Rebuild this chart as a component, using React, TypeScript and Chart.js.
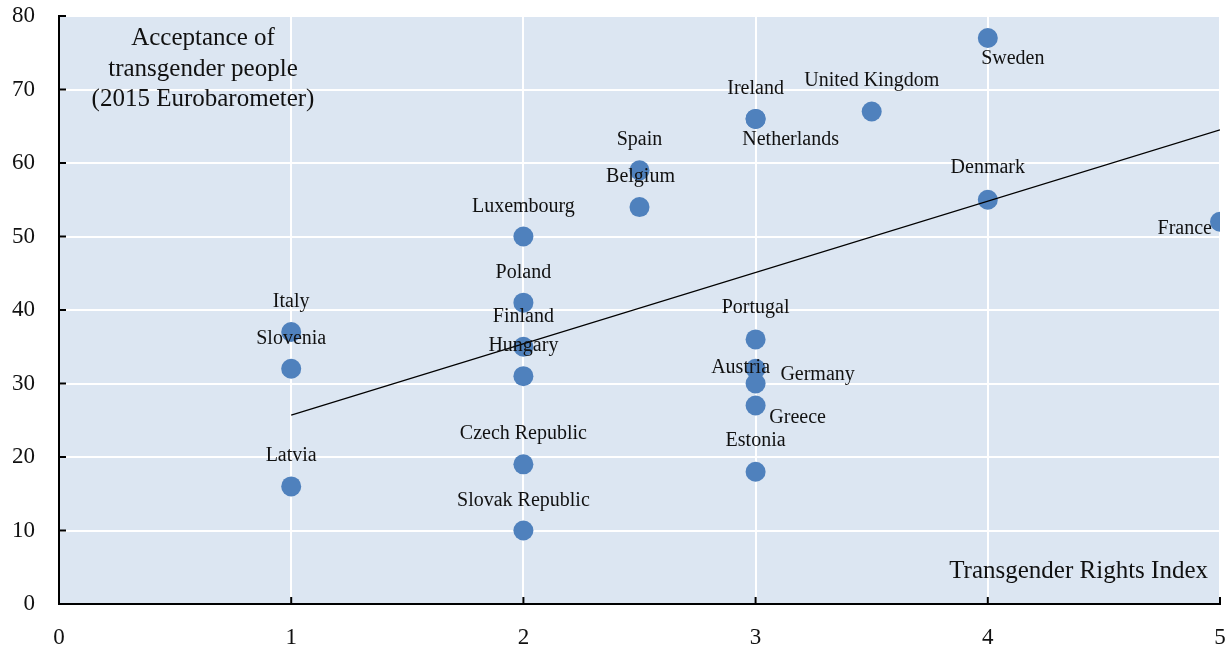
import React, { useEffect, useRef } from "react";
import { Chart, registerables } from "chart.js";

Chart.register(...registerables);

// ---- Data ----
const countries = [
  "Italy", "Slovenia", "Latvia",
  "Luxembourg", "Poland", "Finland", "Hungary", "Czech Republic", "Slovak Republic",
  "Spain", "Belgium",
  "Ireland", "Netherlands", "Portugal", "Austria", "Germany", "Greece", "Estonia",
  "United Kingdom", "Sweden", "Denmark", "France",
];
const rightsIndex = [
  1, 1, 1,
  2, 2, 2, 2, 2, 2,
  2.5, 2.5,
  3, 3, 3, 3, 3, 3, 3,
  3.5, 4, 4, 5,
];
const acceptance = [
  37, 32, 16,
  50, 41, 35, 31, 19, 10,
  59, 54,
  66, 66, 36, 32, 30, 27, 18,
  67, 77, 55, 52,
];
const trendX = [1, 5];
const trendY = [25.7, 64.5];
const xTicks = [0, 1, 2, 3, 4, 5];
const yTicks = [0, 10, 20, 30, 40, 50, 60, 70, 80];
const titleLines = ["Acceptance of", "transgender people", "(2015 Eurobarometer)"];
const xAxisTitle = "Transgender Rights Index";

// ---- Label layout (pixel offsets from point: dx, dy to baseline, align) ----
const labelLayout: Record<string, [number, number, CanvasTextAlign]> = {
  Italy: [0, -25, "center"],
  Slovenia: [0, -25, "center"],
  Latvia: [0, -25, "center"],
  Luxembourg: [0, -25, "center"],
  Poland: [0, -25, "center"],
  Finland: [0, -25, "center"],
  Hungary: [0, -25, "center"],
  "Czech Republic": [0, -25, "center"],
  "Slovak Republic": [0, -25, "center"],
  Spain: [0, -25, "center"],
  Belgium: [1, -25, "center"],
  Ireland: [0, -25, "center"],
  Netherlands: [35, 26, "center"],
  Portugal: [0, -26, "center"],
  Austria: [-15, 4, "center"],
  Germany: [62, -4, "center"],
  Greece: [42, 17, "center"],
  Estonia: [0, -26, "center"],
  "United Kingdom": [0, -26, "center"],
  Sweden: [25, 26, "center"],
  Denmark: [0, -27, "center"],
  France: [-8, 12, "right"],
};

const FONT = "'Liberation Serif', 'Times New Roman', serif";
const BG = "#dce6f2";
const DOT = "#4f81bd";
const INK = "#111111";

const decorPlugin = {
  id: "decor",
  beforeDraw(chart: any) {
    const { ctx, chartArea } = chart;
    ctx.save();
    ctx.fillStyle = BG;
    ctx.fillRect(chartArea.left, chartArea.top, chartArea.right - chartArea.left, chartArea.bottom - chartArea.top);
    ctx.restore();
  },
  afterDatasetsDraw(chart: any) {
    const { ctx, chartArea, scales } = chart;
    const xs = scales.x;
    const ys = scales.y;
    ctx.save();
    // inward ticks
    ctx.strokeStyle = "#000";
    ctx.lineWidth = 2;
    yTicks.forEach((v) => {
      const py = ys.getPixelForValue(v);
      ctx.beginPath();
      ctx.moveTo(chartArea.left, py);
      ctx.lineTo(chartArea.left + 7, py);
      ctx.stroke();
    });
    xTicks.forEach((v) => {
      const px = xs.getPixelForValue(v);
      ctx.beginPath();
      ctx.moveTo(px, chartArea.bottom);
      ctx.lineTo(px, chartArea.bottom - 7);
      ctx.stroke();
    });
    // point labels
    ctx.fillStyle = INK;
    ctx.font = `20px ${FONT}`;
    ctx.textBaseline = "alphabetic";
    countries.forEach((name, i) => {
      const lay = labelLayout[name] || [0, -25, "center"];
      const px = xs.getPixelForValue(rightsIndex[i]);
      const py = ys.getPixelForValue(acceptance[i]);
      ctx.textAlign = lay[2];
      ctx.fillText(name, px + lay[0], py + lay[1]);
    });
    // y title (inside plot)
    ctx.font = `25px ${FONT}`;
    ctx.textAlign = "center";
    titleLines.forEach((line, i) => {
      ctx.fillText(line, chartArea.left + 144, chartArea.top + 29 + i * 30.5);
    });
    // x title
    ctx.textAlign = "right";
    ctx.fillText(xAxisTitle, chartArea.right - 12, chartArea.bottom - 26);
    ctx.restore();
  },
};

export default function App() {
  const ref = useRef<HTMLCanvasElement | null>(null);
  useEffect(() => {
    document.body.style.margin = "0";
    if (!ref.current) return;
    const chart = new Chart(ref.current, {
      type: "scatter",
      data: {
        datasets: [
          {
            type: "line",
            label: "Trend",
            data: trendX.map((x, i) => ({ x, y: trendY[i] })),
            borderColor: "#000",
            borderWidth: 1.2,
            pointRadius: 0,
            fill: false,
            order: 0,
          } as any,
          {
            label: "Countries",
            data: rightsIndex.map((x, i) => ({ x, y: acceptance[i] })),
            backgroundColor: DOT,
            borderColor: DOT,
            borderWidth: 0,
            pointRadius: 10,
            pointHoverRadius: 10,
            order: 1,
          },
        ],
      },
      options: {
        responsive: false,
        animation: false,
        layout: { padding: { top: 16, right: 11, left: 0, bottom: 0 } },
        plugins: { legend: { display: false }, tooltip: { enabled: false } },
        scales: {
          x: {
            type: "linear",
            min: 0,
            max: 5,
            afterFit: (s: any) => {
              s.height = 44;
              s.paddingLeft = 0;
              s.paddingRight = 0;
            },
            ticks: {
              stepSize: 1,
              padding: 20,
              color: INK,
              font: { family: FONT, size: 23 },
            },
            grid: { color: "#ffffff", lineWidth: 2, drawTicks: false },
            border: { display: true, color: "#000", width: 2 },
          },
          y: {
            type: "linear",
            min: 0,
            max: 80,
            afterFit: (s: any) => {
              s.width = 59;
              s.paddingTop = 0;
              s.paddingBottom = 0;
            },
            ticks: {
              stepSize: 10,
              padding: 24,
              color: INK,
              font: { family: FONT, size: 23 },
            },
            grid: { color: "#ffffff", lineWidth: 2, drawTicks: false },
            border: { display: true, color: "#000", width: 2 },
          },
        },
      },
      plugins: [decorPlugin],
    });
    return () => chart.destroy();
  }, []);
  return (
    <div style={{ width: 1231, height: 648 }}>
      <canvas ref={ref} width={1231} height={648} style={{ width: 1231, height: 648, display: "block" }} />
    </div>
  );
}
